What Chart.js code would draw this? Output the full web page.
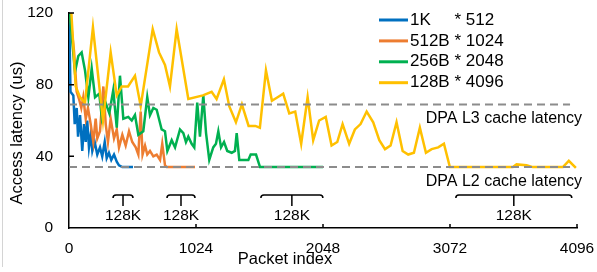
<!DOCTYPE html>
<html>
<head>
<meta charset="utf-8">
<script src="https://cdn.jsdelivr.net/npm/chart.js@4.4.1/dist/chart.umd.min.js"></script>
<style>
  html, body { margin: 0; padding: 0; background: #fff; }
  #wrap { width: 597px; height: 272px; }
</style>
</head>
<body>
<div id="wrap"><canvas id="latencyChart" width="597" height="272"></canvas></div>
<script>
// --- values ---
const seriesLabels = ['1K', '512B', '256B', '128B'];
const seriesCounts = ['512', '1024', '2048', '4096'];
const seriesColors = ['#0070C0', '#ED7D31', '#00B050', '#FFC000'];

const blueX = [0, 12, 35, 46, 62, 73, 89, 107, 121, 135, 147, 161, 175, 188, 207, 228, 250, 268, 288, 304, 322, 341, 363, 385, 403, 430, 516];
const blueY = [125, 76, 74, 58, 67, 51, 63, 43, 58, 48, 60, 45, 52, 43, 48, 41, 45, 40, 48, 39, 42, 38, 41, 37, 35, 34, 34];

const orangeX = [0, 40, 62, 81, 99, 115, 135, 153, 175, 196, 215, 228, 250, 277, 296, 314, 336, 363, 385, 403, 430, 457, 484, 510, 538, 559, 578, 593, 613, 631, 653, 680, 707, 734, 752, 774, 788, 1016];
const orangeY = [125, 99, 76, 72, 67, 73, 61, 67, 58, 48, 61, 50, 54, 79, 58, 48, 61, 50, 55, 45, 52, 46, 54, 48, 45, 41, 65, 41, 46, 41, 43, 40, 41, 38, 47, 35, 34, 34];

const greenX = [0, 48, 75, 102, 129, 156, 183, 210, 244, 264, 290, 325, 357, 385, 411, 438, 478, 506, 532, 559, 599, 631, 653, 680, 707, 747, 774, 793, 828, 855, 895, 922, 943, 962, 989, 1010, 1034, 1056, 1083, 1105, 1131, 1163, 1185, 1204, 1226, 1250, 1276, 1312, 1338, 1352, 1373, 1446, 1465, 1508, 1540, 1782, 2048];
const greenY = [125, 87, 96, 98, 88, 73, 89, 73, 75, 62, 71, 64, 77, 56, 85, 61, 62, 60, 63, 52, 54, 73, 63, 67, 66, 55, 54, 43, 49, 45, 55, 53, 48, 51, 47, 45, 70, 51, 74, 53, 38, 45, 47, 54, 45, 48, 43, 42, 43, 53, 38, 38, 41, 41, 34, 34, 34];

const yellowX = [0, 19, 54, 89, 129, 193, 274, 336, 385, 425, 476, 532, 578, 675, 726, 774, 814, 868, 962, 1080, 1150, 1190, 1249, 1292, 1346, 1394, 1448, 1502, 1539, 1588, 1636, 1682, 1727, 1776, 1824, 1872, 1924, 1969, 2017, 2070, 2117, 2163, 2206, 2259, 2305, 2351, 2400, 2453, 2502, 2548, 2593, 2641, 2690, 2735, 2781, 2829, 2878, 2924, 2977, 3023, 3071, 3232, 3579, 3609, 3689, 3740, 3982, 4030, 4087];
const yellowY = [125, 120, 79, 73, 70, 112, 60, 98, 74, 79, 79, 85, 68, 111, 98, 91, 79, 111, 72, 74, 76, 72, 83, 68, 59, 69, 57, 57, 56, 88, 71, 73, 75, 64, 65, 47, 73, 49, 60, 62, 46, 48, 58, 47, 55, 58, 65, 59, 49, 44, 46, 59, 43, 41, 42, 56, 42, 44, 45, 47, 34, 34, 34, 35.5, 35, 34, 34, 37.5, 33.5];

const xTicks = [0, 1024, 2048, 3072, 4096];
const yTicks = [0, 40, 80, 120];
const l3Latency = 69;
const l2Latency = 34;
const refLineEnd = 4040;
const brackets = [[355, 516], [790, 1016], [1547, 2047], [3119, 4054]];
const bracketText = '128K';

const FONT = "'Liberation Sans', Arial, sans-serif";
Chart.defaults.font.family = FONT;
Chart.defaults.color = '#000';

function points(xs, ys) {
    return xs.map((x, i) => ({ x: x, y: ys[i] }));
}

const seriesX = [blueX, orangeX, greenX, yellowX];
const seriesY = [blueY, orangeY, greenY, yellowY];

const datasets = seriesX.map((xs, i) => ({
    label: seriesLabels[i] + ' * ' + seriesCounts[i],
    data: points(xs, seriesY[i]),
    borderColor: seriesColors[i],
    borderWidth: 2.5,
    pointRadius: 0,
    tension: 0,
    order: 3 - i // Excel style: later series on top
}));

// dashed reference lines sit over the series
[l3Latency, l2Latency].forEach(v => {
    datasets.push({
        label: 'ref',
        data: [{ x: 0, y: v }, { x: refLineEnd, y: v }],
        borderColor: '#8c8c8c',
        borderWidth: 2,
        borderDash: [8, 5],
        pointRadius: 0,
        order: -1
    });
});

// fixed plot box; keep tick labels from pushing the chart area around
function fixBox(s) {
    if (s.isHorizontal()) s.height = 44;
    else s.width = 69;
    s.paddingTop = 0;
    s.paddingBottom = 0;
    s.paddingLeft = 0;
    s.paddingRight = 0;
}

const overlay = {
    id: 'overlay',
    afterDraw(chart) {
        const ctx = chart.ctx;
        const xs = chart.scales.x;
        const ys = chart.scales.y;
        const base = ys.bottom;
        ctx.save();

        // thin frame line at the very left
        ctx.strokeStyle = '#d4d4d4';
        ctx.lineWidth = 1;
        ctx.beginPath();
        ctx.moveTo(2.5, 0);
        ctx.lineTo(2.5, 267);
        ctx.stroke();

        // inward tick marks
        ctx.strokeStyle = '#000';
        ctx.lineWidth = 1.5;
        ctx.beginPath();
        xTicks.slice(1).forEach(v => {
            const px = xs.getPixelForValue(v);
            ctx.moveTo(px, base);
            ctx.lineTo(px, base - 4);
        });
        yTicks.slice(1).forEach(v => {
            const py = ys.getPixelForValue(v);
            ctx.moveTo(xs.left, py);
            ctx.lineTo(xs.left + 5, py);
        });
        ctx.stroke();

        // axis titles
        ctx.fillStyle = '#000';
        ctx.textAlign = 'center';
        ctx.textBaseline = 'middle';
        ctx.font = '16.5px ' + FONT;
        ctx.fillText('Packet index', 285, 259);
        ctx.save();
        ctx.translate(17, 133);
        ctx.rotate(-Math.PI / 2);
        ctx.fillText('Access latency (us)', 0, 0);
        ctx.restore();

        // reference line captions
        ctx.font = '16px ' + FONT;
        ctx.textAlign = 'right';
        ctx.fillText('DPA L3 cache latency', xs.right + 5, ys.getPixelForValue(l3Latency) + 14);
        ctx.fillText('DPA L2 cache latency', xs.right + 5, ys.getPixelForValue(l2Latency) + 15);

        // 128K brackets
        ctx.lineWidth = 1.5;
        ctx.textAlign = 'center';
        ctx.font = '15.5px ' + FONT;
        brackets.forEach(([a, b]) => {
            const x1 = xs.getPixelForValue(a);
            const x2 = xs.getPixelForValue(b);
            const xc = (x1 + x2) / 2;
            const top = base - 33;
            ctx.beginPath();
            ctx.moveTo(x1, top + 3);
            ctx.quadraticCurveTo(x1, top, x1 + 3, top);
            ctx.lineTo(x2 - 3, top);
            ctx.quadraticCurveTo(x2, top, x2, top + 3);
            ctx.moveTo(xc, top);
            ctx.lineTo(xc, top + 11);
            ctx.stroke();
            ctx.fillText(bracketText, xc, base - 12);
        });

        // legend
        ctx.font = '17px ' + FONT;
        ctx.textAlign = 'left';
        const textX = 410;
        const starX = textX + ctx.measureText('512B ').width;
        seriesLabels.forEach((lab, i) => {
            const y = 20 + i * 20.9;
            ctx.strokeStyle = seriesColors[i];
            ctx.lineWidth = 3;
            ctx.beginPath();
            ctx.moveTo(379, y);
            ctx.lineTo(408, y);
            ctx.stroke();
            ctx.fillText(lab, textX, y);
            ctx.fillText('* ' + seriesCounts[i], starX, y);
        });

        ctx.restore();
    }
};

new Chart(document.getElementById('latencyChart'), {
    type: 'line',
    data: { datasets: datasets },
    options: {
        responsive: false,
        animation: false,
        layout: { padding: { top: 13, right: 20, left: 0, bottom: 0 } },
        plugins: {
            legend: { display: false },
            tooltip: { enabled: false }
        },
        scales: {
            x: {
                type: 'linear',
                min: 0,
                max: 4096,
                afterBuildTicks: s => { s.ticks = xTicks.map(v => ({ value: v })); },
                afterFit: fixBox,
                grid: { display: false, drawTicks: false },
                border: { display: true, color: '#000', width: 1.5 },
                ticks: { padding: 11, font: { size: 15.5 }, maxRotation: 0, autoSkip: false, callback: v => String(v) }
            },
            y: {
                min: 0,
                max: 120,
                afterBuildTicks: s => { s.ticks = yTicks.map(v => ({ value: v })); },
                afterFit: fixBox,
                grid: { display: false, drawTicks: false },
                border: { display: true, color: '#000', width: 1.5 },
                ticks: { padding: 16, font: { size: 15.5 } }
            }
        }
    },
    plugins: [overlay]
});
</script>
</body>
</html>
